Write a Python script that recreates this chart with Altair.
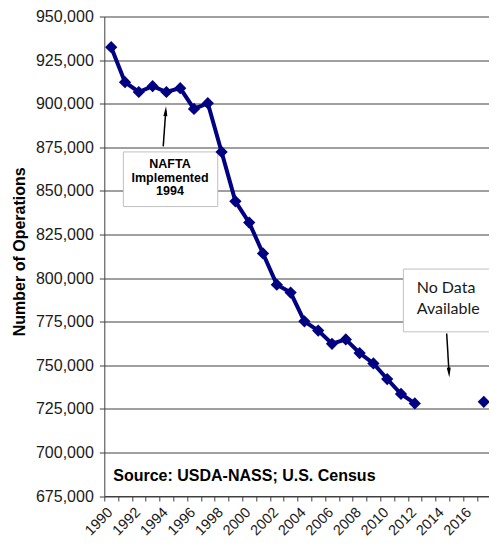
import altair as alt
import pandas as pd

# ---- data ----
years = [1990, 1991, 1992, 1993, 1994, 1995, 1996, 1997, 1998, 1999, 2000,
         2001, 2002, 2003, 2004, 2005, 2006, 2007, 2008, 2009, 2010, 2011,
         2012, 2017]
operations = [932400, 912300, 906700, 910000, 906700, 908900, 897000, 900300,
              872300, 844000, 831800, 814100, 796200, 791700, 775200, 769900,
              762300, 764800, 757000, 751000, 742100, 733500, 728100, 729000]

y_ticks = list(range(675000, 950001, 25000))
# category boundaries (ticks sit between years)
x_ticks = [y - 0.5 for y in range(1990, 2019)]

# annotation boxes (in data units)
box_x1 = [1990.88, 2011.17]
box_x2 = [1997.72, 2018.5]
box_y1 = [872340, 805150]
box_y2 = [840990, 769150]

nafta_lines = ["NAFTA", "Implemented", "1994"]
nafta_x = [1994.26, 1994.26, 1994.26]
nafta_y = [863380, 854980, 847540]

nodata_lines = ["No Data", "Available"]
nodata_x = [2012.14, 2012.14]
nodata_y = [791550, 779400]

source_text = ["Source:  USDA-NASS; U.S. Census"]
source_x = [1990.15]
source_y = [683820]

# arrows: shaft start -> head centre
arrow_x1 = [1993.77, 2014.31]
arrow_y1 = [875530, 768200]
arrow_x2 = [1993.95, 2014.48]
arrow_y2 = [895690, 745800]
arrow_angle = [3.8, 176.7]

df = pd.DataFrame({"year": years, "ops": operations})
boxes = pd.DataFrame({"x1": box_x1, "x2": box_x2, "y1": box_y1, "y2": box_y2})
nafta = pd.DataFrame({"x": nafta_x, "y": nafta_y, "t": nafta_lines})
nodata = pd.DataFrame({"x": nodata_x, "y": nodata_y, "t": nodata_lines})
source = pd.DataFrame({"x": source_x, "y": source_y, "t": source_text})
arrows = pd.DataFrame({"x1": arrow_x1, "y1": arrow_y1, "x2": arrow_x2,
                       "y2": arrow_y2, "ang": arrow_angle})

NAVY = "#000080"
FONT = "Liberation Sans"
AXC = "#404040"

PX_PER_YEAR = 13.8
PAD_L, PAD_T = 96.3, 8.5
SVG_W, SVG_H = 481, 529
PLOT_W = SVG_W - PAD_L
PLOT_H = 479.5

x_scale = alt.Scale(domain=[1989.5, 1989.5 + PLOT_W / PX_PER_YEAR],
                    nice=False, zero=False)
y_scale = alt.Scale(domain=[675000, 950000], nice=False, zero=False)

x_axis = alt.Axis(
    values=x_ticks, title=None, grid=False,
    labelOffset=5.9,
    labelExpr="(datum.value + 0.5) % 2 == 0 ? format(datum.value + 0.5, 'd') : ''",
    labelAngle=-45, labelAlign="right", labelBaseline="middle",
    labelFlush=False, labelOverlap=False, labelBound=False,
    tickSize=5, labelPadding=9,
    labelFont=FONT, labelFontSize=14.5, labelColor="#1a1a1a",
    domainColor=AXC, tickColor=AXC,
)
y_axis = alt.Axis(
    values=y_ticks, labelExpr="format(datum.value, ',')",
    grid=True, gridColor=AXC, gridWidth=1,
    tickSize=5, labelPadding=6, labelFlush=False, labelOverlap=False,
    labelFont=FONT, labelFontSize=16, labelColor="#1a1a1a",
    domainColor=AXC, tickColor=AXC,
    title="Number of Operations", titleFont=FONT, titleFontSize=16,
    titleFontWeight="bold", titleColor="#000000",
    titleAngle=270, titleAlign="center", titleBaseline="middle",
    titleX=-85.3, titleY=PLOT_H / 2 - 5,
)


def X(field):
    return alt.X(field, scale=x_scale, axis=x_axis)


def Y(field):
    return alt.Y(field, scale=y_scale, axis=y_axis)


base = alt.Chart(df)

line = base.transform_filter("datum.year <= 2012").mark_line(
    color=NAVY, strokeWidth=4
).encode(x=X("year:Q"), y=Y("ops:Q"))

pts = base.mark_point(shape="diamond", filled=True, size=150, color=NAVY,
                      opacity=1).encode(x=X("year:Q"), y=Y("ops:Q"))

rects = alt.Chart(boxes).mark_rect(fill="white", stroke="#c0c0c0",
                                   strokeWidth=1, clip=True).encode(
    x=X("x1:Q"), x2="x2:Q", y=Y("y1:Q"), y2="y2:Q",
)

nafta_txt = alt.Chart(nafta).mark_text(
    font=FONT, fontSize=12.5, fontWeight="bold", align="center",
    baseline="alphabetic", color="#000000"
).encode(x=X("x:Q"), y=Y("y:Q"), text="t:N")

nodata_txt = alt.Chart(nodata).mark_text(
    font="Lato", fontSize=16, align="left", baseline="alphabetic",
    color="#1a1a1a"
).encode(x=X("x:Q"), y=Y("y:Q"), text="t:N")

source_txt = alt.Chart(source).mark_text(
    font=FONT, fontSize=16, fontWeight="bold", align="left",
    baseline="alphabetic", color="#000000"
).encode(x=X("x:Q"), y=Y("y:Q"), text="t:N")

shafts = alt.Chart(arrows).mark_rule(color="#000000", strokeWidth=1.5).encode(
    x=X("x1:Q"), x2="x2:Q", y=Y("y1:Q"), y2="y2:Q",
)

heads = alt.Chart(arrows).mark_point(
    shape="M0,-1L0.4,1L-0.4,1Z", filled=True, size=100, color="#000000",
    opacity=1
).encode(
    x=X("x2:Q"), y=Y("y2:Q"),
    angle=alt.Angle("ang:Q", scale=None),
)

chart = alt.layer(
    line, rects, pts, nafta_txt, nodata_txt, source_txt, shafts, heads
).properties(
    width=PLOT_W, height=PLOT_H,
    autosize=alt.AutoSizeParams(type="none"),
    padding={"left": PAD_L, "top": PAD_T, "right": 0,
             "bottom": SVG_H - PAD_T - PLOT_H},
    background="white",
).configure_view(stroke=None)

chart.save("out.html", embed_options={"renderer": "svg", "actions": False})
